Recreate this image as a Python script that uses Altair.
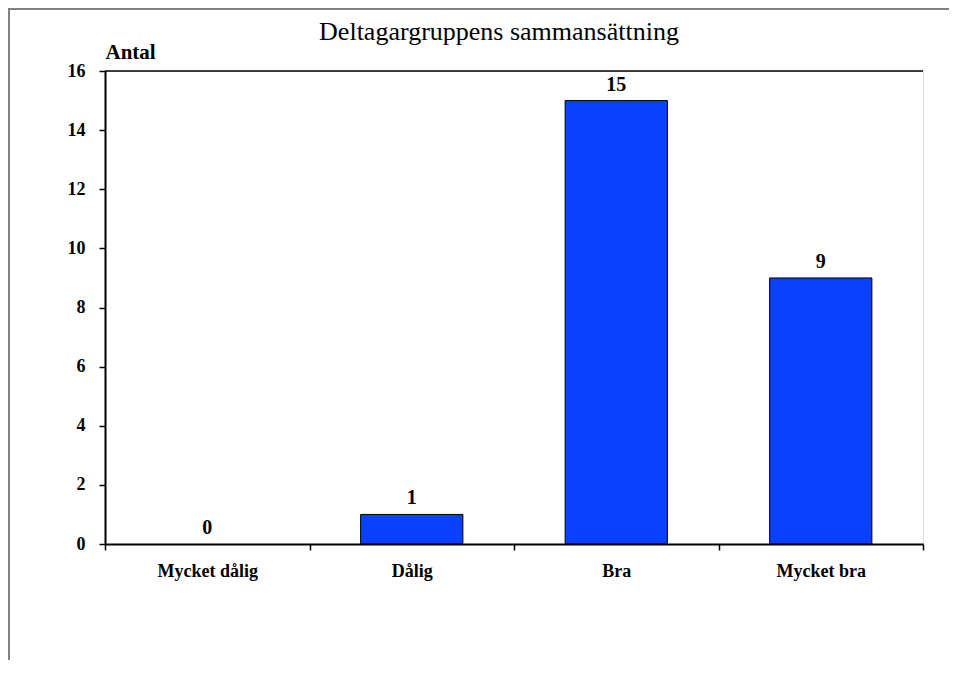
import altair as alt
import pandas as pd

categories = ["Mycket dålig", "Dålig", "Bra", "Mycket bra"]
counts = [0, 1, 15, 9]
title_text = "Deltagargruppens sammansättning"
y_title = "Antal"

df = pd.DataFrame({"kategori": categories, "antal": counts})
one = pd.DataFrame({"a": [0]})

W, H = 818, 473
PL, PT, PR, PB = 97, 63, 26, 116
FONT = "Liberation Serif, Times New Roman, serif"

x_enc = alt.X(
    "kategori:N",
    sort=categories,
    scale=alt.Scale(paddingInner=0, paddingOuter=0),
    axis=alt.Axis(
        title=None,
        labelAngle=0,
        labelFont=FONT,
        labelFontSize=18,
        labelFontWeight="bold",
        labelColor="black",
        labelPadding=12,
        tickBand="extent",
        tickSize=6,
        tickColor="black",
        tickWidth=1.5,
        domainColor="black",
        domainWidth=2,
        zindex=1,
    ),
)

y_enc = alt.Y(
    "antal:Q",
    scale=alt.Scale(domain=[0, 16], nice=False),
    axis=alt.Axis(
        title=y_title,
        titleAngle=0,
        titleAlign="left",
        titleBaseline="alphabetic",
        titleX=0,
        titleY=-13,
        titleFont=FONT,
        titleFontSize=21,
        titleFontWeight="bold",
        titleColor="black",
        values=list(range(0, 17)),
        labelExpr="datum.value % 2 === 0 ? datum.label : ''",
        labelFont=FONT,
        labelFontSize=18,
        labelFontWeight="bold",
        labelColor="black",
        labelPadding=14,
        tickSize={"condition": {"test": "datum.value % 2 === 1", "value": 3}, "value": 6},
        tickColor="black",
        tickWidth=1.5,
        domainColor="black",
        domainWidth=2,
        grid=False,
        zindex=1,
    ),
)

bars = alt.Chart(df).mark_bar(
    color="#0A40FF", stroke="black", strokeWidth=1, width={"band": 0.5}
).encode(
    x=x_enc,
    y=y_enc,
    strokeOpacity=alt.condition("datum.antal > 0", alt.value(1), alt.value(0)),
)

labels = alt.Chart(df).mark_text(
    font=FONT, fontSize=20, fontWeight="bold", color="black", baseline="bottom", dy=-6
).encode(x=alt.X("kategori:N", sort=categories), y="antal:Q", text="antal:Q")

top_rule = alt.Chart(one).mark_rule(color="black", strokeWidth=1.5).encode(
    x=alt.value(0), x2=alt.value(W), y=alt.value(0)
)

frame_left = alt.Chart(one).mark_rule(color="#808080", strokeWidth=2).encode(
    x=alt.value(-PL + 1), y=alt.value(-PT + 1), y2=alt.value(H + PB)
)
frame_top = alt.Chart(one).mark_rule(color="#808080", strokeWidth=2).encode(
    x=alt.value(-PL), x2=alt.value(W + PR), y=alt.value(-PT + 1)
)

title_mark = alt.Chart(one).mark_text(
    text=title_text, font=FONT, fontSize=26, color="black", align="center", baseline="alphabetic"
).encode(x=alt.value(394), y=alt.value(-31))

chart = alt.layer(bars, labels, top_rule, frame_left, frame_top, title_mark).properties(
    width=W,
    height=H,
    padding={"left": PL, "top": PT, "right": PR, "bottom": PB},
    autosize=alt.AutoSizeParams(type="none"),
).configure_view(stroke="#808080", strokeWidth=1.5).configure(background="white")

chart.save("out.html", embed_options={"renderer": "svg", "actions": False})
